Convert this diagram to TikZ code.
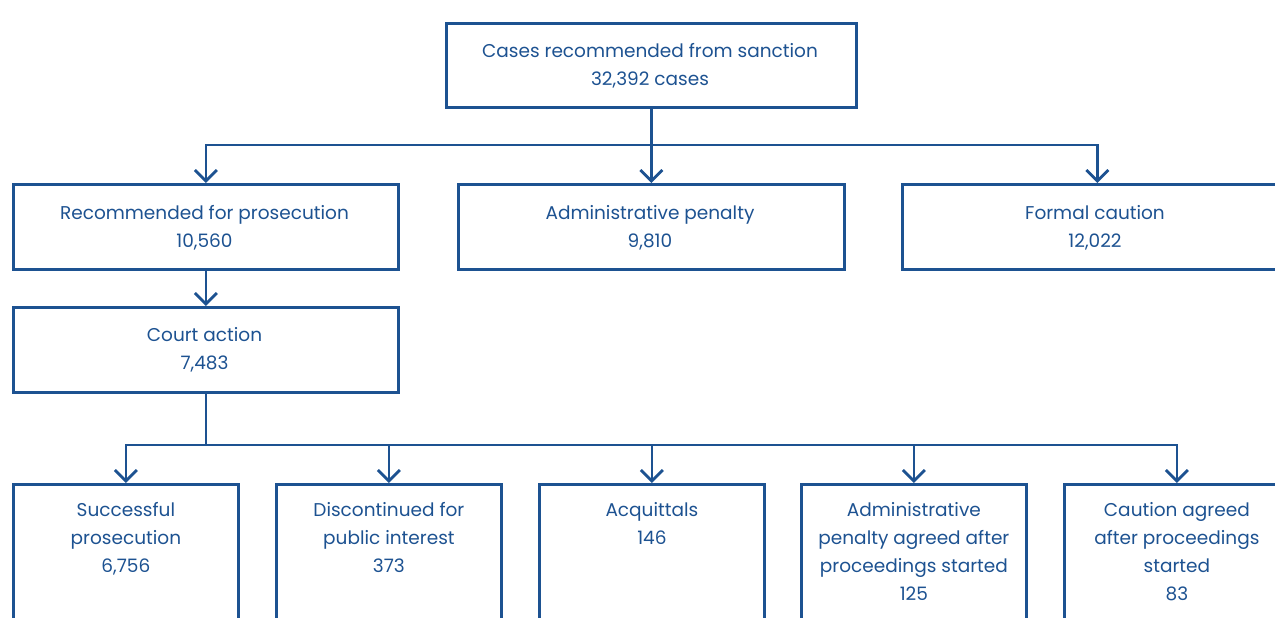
\documentclass[tikz,border=0pt]{standalone}
\usepackage{fontspec}
\setmainfont{Poppins}
\usetikzlibrary{arrows.meta}
\definecolor{dblue}{HTML}{1D5291}
\begin{document}
\begin{tikzpicture}[x=1pt,y=-1pt,
  box/.style={draw=dblue,line width=2.8pt,align=center,anchor=north west,inner sep=0pt},
  lbl/.style={text=dblue,align=center,font=\fontsize{18.5}{28}\selectfont},
  conn/.style={draw=dblue,line width=2.8pt},
  arr/.style={conn,-{Straight Barb[length=11pt,width=22pt,line width=2.8pt]}}]
\useasboundingbox (0,0) rectangle (1275,618);
\clip (0,0) rectangle (1275,618);
% boxes
\node[box,minimum width=410pt,minimum height=84pt] (top) at (445,22) {};
\node[lbl] (toptxt) at (650,66) {Cases recommended from sanction\\32,392 cases};
\node[box,minimum width=385pt,minimum height=85pt] (pros) at (12,183) {};
\node[lbl] at (204.5,228) {Recommended for prosecution\\10,560};
\node[box,minimum width=386pt,minimum height=85pt] (adm) at (457,183) {};
\node[lbl] at (650,228) {Administrative penalty\\9,810};
\node[box,minimum width=390pt,minimum height=85pt] (caut) at (901,183) {};
\node[lbl] at (1095,228) {Formal caution\\12,022};
\node[box,minimum width=385pt,minimum height=85pt] (court) at (12,306) {};
\node[lbl] at (204.5,350) {Court action\\7,483};
\foreach \n/\x in {b1/12,b2/275,b3/538,b4/800,b5/1063}{
  \node[box,minimum width=225pt,minimum height=200pt] (\n) at (\x,483) {};
}
\node[lbl,anchor=north] at (b1.north |- 0,499) {Successful\\prosecution\\6,756};
\node[lbl,anchor=north] at (b2.north |- 0,499) {Discontinued for\\public interest\\373};
\node[lbl,anchor=north] at (b3.north |- 0,499) {Acquittals\\146};
\node[lbl,anchor=north] at (b4.north |- 0,499) {Administrative\\penalty agreed after\\proceedings started\\125};
\node[lbl,anchor=north] at (b5.north |- 0,499) {Caution agreed\\after proceedings\\started\\83};
% connectors
\coordinate (j1) at (top.south |- 0,145);
\draw[arr] (top.south) -- (adm.north);
\draw[arr] (j1) -| (pros.north);
\draw[arr] (j1) -| (caut.north);
\draw[arr] (pros.south) -- (court.north);
\coordinate (j2) at (court.south |- 0,445);
\draw[conn] (court.south) -- (j2);
\foreach \n in {b1,b2,b3,b4,b5}{\draw[arr] (j2) -| (\n.north);}
\end{tikzpicture}
\end{document}
